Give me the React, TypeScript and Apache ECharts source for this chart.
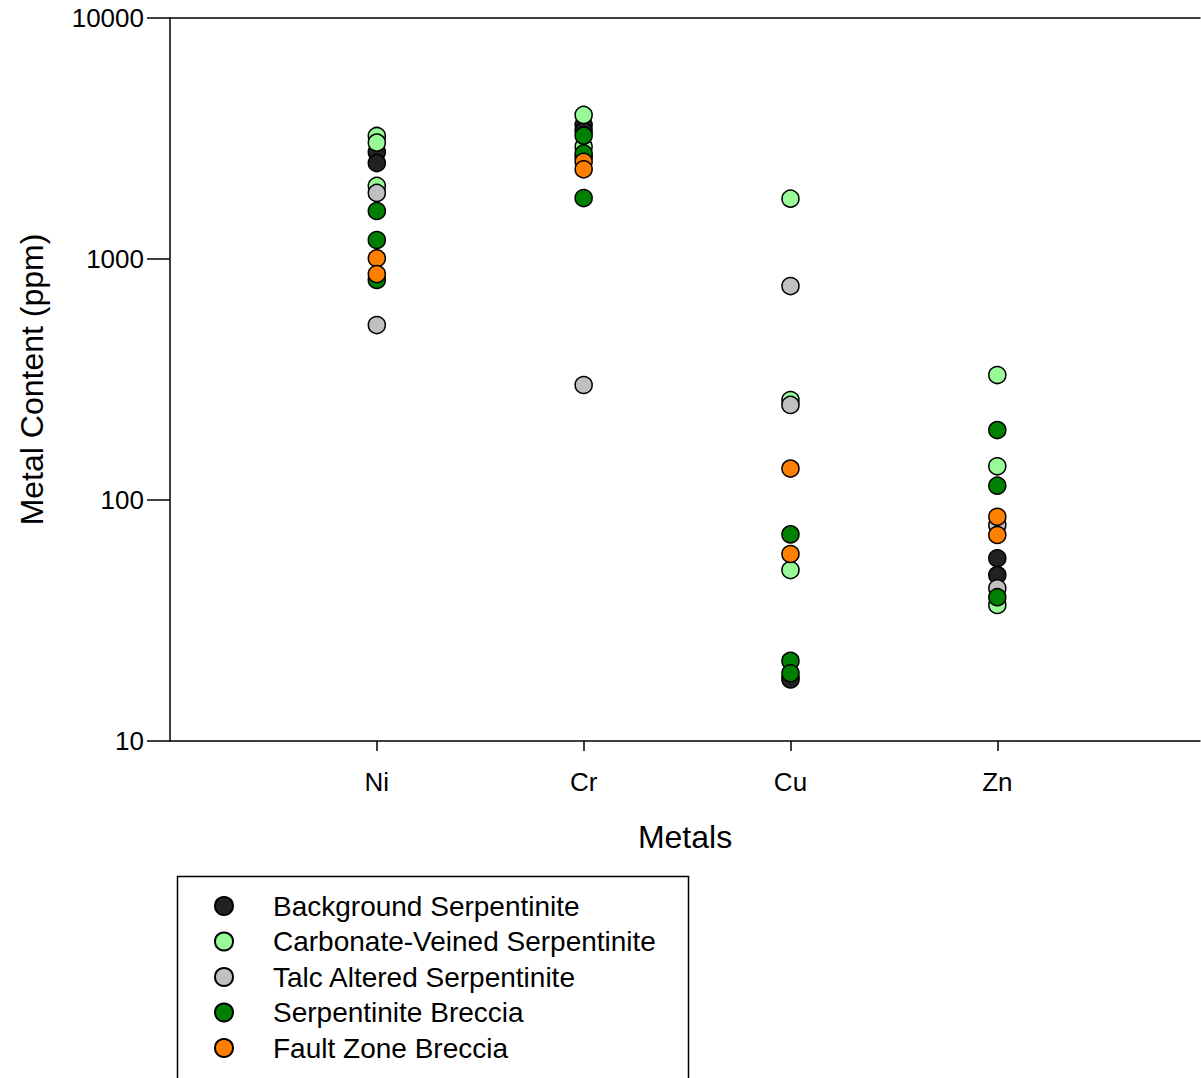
import React, { useEffect, useRef } from "react";
import * as echarts from "echarts";

const metals = ["Ni", "Cr", "Cu", "Zn"];
const seriesNames = [
  "Background Serpentinite",
  "Carbonate-Veined Serpentinite",
  "Talc Altered Serpentinite",
  "Serpentinite Breccia",
  "Fault Zone Breccia",
];
const seriesColors = ["#222222", "#98fb98", "#c0c0c0", "#008000", "#ff8000"];

// values per metal: [Ni, Cr, Cu, Zn]
const backgroundValues = [[2780, 2500], [3600, 3400], [18.3, 18.0], [57.3, 48.8]];
const carbonateValues = [[3240, 3040, 2010], [3960, 2920], [1780, 260, 51.2], [330, 138, 36.7]];
const talcValues = [[1880, 532], [2650, 300], [772, 248], [78.8, 43]];
const brecciaValues = [[1582, 1199, 818], [3250, 2742, 1790], [72, 21.5, 19.1], [195, 114.7, 39.5]];
const faultValues = [[1007, 866], [2533, 2356], [135, 59.7], [85.2, 71.6]];

const allValues = [backgroundValues, carbonateValues, talcValues, brecciaValues, faultValues];

const FONT = "'Liberation Sans', Arial, sans-serif";

export default function App() {
  const ref = useRef<HTMLDivElement>(null);
  useEffect(() => {
    if (!ref.current) return;
    const chart = echarts.init(ref.current, null, { renderer: "svg" });
    const series = seriesNames.map((name, si) => ({
      name,
      type: "scatter",
      symbol: "circle",
      symbolSize: 17,
      itemStyle: { color: seriesColors[si], borderColor: "#000", borderWidth: 1.5, opacity: 1 },
      data: allValues[si].flatMap((vals, mi) => vals.map((v) => [mi + 1, v])),
    }));
    chart.setOption({
      animation: false,
      backgroundColor: "#fff",
      textStyle: { fontFamily: FONT },
      grid: { left: 170, right: 1, top: 18, bottom: 337 },
      xAxis: [
        {
          type: "value",
          min: 0,
          max: 4.98,
          interval: 1,
          position: "bottom",
          splitLine: { show: false },
          axisLine: { show: true, lineStyle: { color: "#000", width: 1.5 } },
          axisTick: { show: true, inside: false, length: 10, customValues: [1, 2, 3, 4], lineStyle: { color: "#000", width: 1.5 } },
          axisLabel: {
            customValues: [1, 2, 3, 4],
            formatter: (v: number) => metals[Math.round(v) - 1] ?? "",
            fontSize: 26,
            color: "#000",
            fontFamily: FONT,
            margin: 28,
          },
          name: "Metals",
          nameLocation: "middle",
          nameGap: 80,
          nameTextStyle: { fontSize: 32, color: "#000", fontFamily: FONT },
        },
        {
          type: "value",
          min: 0,
          max: 4.98,
          position: "top",
          splitLine: { show: false },
          axisLine: { show: true, onZero: false, lineStyle: { color: "#000", width: 1.5 } },
          axisTick: { show: false },
          axisLabel: { show: false },
        },
      ],
      yAxis: {
        type: "log",
        logBase: 10,
        min: 10,
        max: 10000,
        splitLine: { show: false },
        minorTick: { show: false },
        axisLine: { show: true, lineStyle: { color: "#000", width: 1.5 } },
        axisTick: { show: true, inside: false, length: 23, lineStyle: { color: "#000", width: 1.5 } },
        axisLabel: {
          fontSize: 26,
          color: "#000",
          fontFamily: FONT,
          margin: 26,
          formatter: (v: number) => String(Math.round(v)),
        },
        name: "Metal Content (ppm)",
        nameLocation: "middle",
        nameGap: 122,
        nameTextStyle: { fontSize: 32, color: "#000", fontFamily: FONT },
      },
      legend: {
        data: seriesNames,
        orient: "vertical",
        left: 214,
        top: 892,
        padding: 0,
        icon: "circle",
        itemWidth: 18,
        itemHeight: 18,
        itemGap: 7.5,
        selectedMode: false,
        textStyle: { fontSize: 28, color: "#000", fontFamily: FONT, padding: [0, 0, 0, 35] },
      },
      graphic: [
        {
          type: "rect",
          left: 175,
          top: 874,
          shape: { width: 511, height: 240 },
          style: { fill: "none", stroke: "#000", lineWidth: 1.5 },
          silent: true,
        },
      ],
      series,
    });
    return () => chart.dispose();
  }, []);
  return (
    <div
      ref={ref}
      style={{ position: "fixed", left: 0, top: 0, width: 1201, height: 1078 }}
    />
  );
}
